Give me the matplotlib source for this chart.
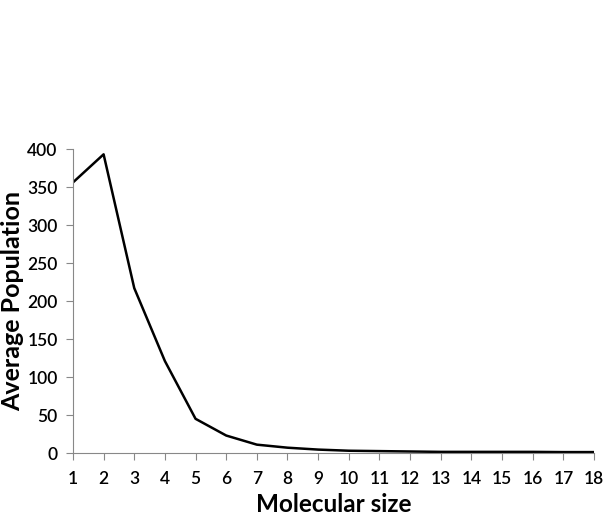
import numpy as np
import matplotlib.pyplot as plt

plt.rcParams['font.family'] = ['Lato', 'DejaVu Sans']

# data
sizes = np.arange(1, 19)
population = [356, 393, 217, 121, 45, 23, 11, 7, 4.5, 3, 2.5, 2, 1.5, 1.5, 1.5, 1.5, 1.2, 1.2]
yticks = [0, 50, 100, 150, 200, 250, 300, 350, 400]

fig = plt.figure(figsize=(6.13, 5.21), dpi=100)
ax = fig.add_axes([0.119, 0.1305, 0.85, 0.5835])

ax.plot(sizes, population, color='black', linewidth=1.8)

ax.set_xlim(1, 18)
ax.set_ylim(0, 400)
ax.set_xticks(sizes)
ax.set_yticks(yticks)
ax.tick_params(axis='both', labelsize=12.5, color='#888888', length=5, width=0.8)
ax.tick_params(axis='x', pad=8)
ax.tick_params(axis='y', pad=6)
for lbl in ax.get_xticklabels() + ax.get_yticklabels():
    lbl.set_fontweight('semibold')

for s in ['top', 'right']:
    ax.spines[s].set_visible(False)
for s in ['left', 'bottom']:
    ax.spines[s].set_color('#888888')
    ax.spines[s].set_linewidth(0.8)

ax.set_xlabel('Molecular size', fontsize=17.5, fontweight='bold', labelpad=4)
ax.set_ylabel('Average Population', fontsize=18, fontweight='bold', labelpad=2)

plt.savefig('out.png', dpi=100)
